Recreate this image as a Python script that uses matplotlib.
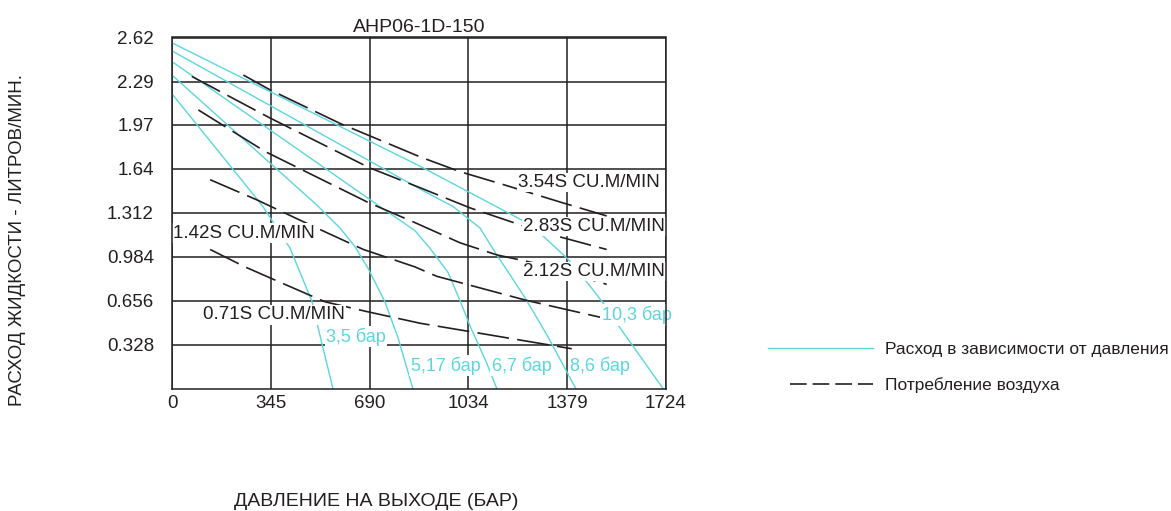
import matplotlib
matplotlib.use("Agg")
import matplotlib.pyplot as plt
from matplotlib.lines import Line2D

plt.rcParams['font.family'] = ['Liberation Sans', 'DejaVu Sans']
plt.rcParams['lines.scale_dashes'] = False

# fluid flow vs outlet pressure, one curve per air inlet pressure
p103_x = [0, 866, 1220, 1290, 1378, 1447, 1505, 1552, 1715]
p103_y = [2.58, 1.66, 1.26, 1.15, 0.976, 0.80, 0.64, 0.49, 0.0]
p86_x = [0, 866, 981, 1075, 1127, 1180, 1232, 1312, 1410]
p86_y = [2.52, 1.49, 1.36, 1.20, 1.02, 0.85, 0.68, 0.39, 0.0]
p67_x = [0, 719, 848, 900, 963, 1005, 1040, 1099, 1134]
p67_y = [2.44, 1.37, 1.18, 1.05, 0.87, 0.66, 0.47, 0.19, 0.0]
p517_x = [0, 506, 586, 639, 684, 743, 789, 841]
p517_y = [2.34, 1.37, 1.20, 1.06, 0.90, 0.65, 0.38, 0.0]
p35_x = [0, 314, 360, 412, 489, 510, 562]
p35_y = [2.20, 1.37, 1.22, 1.05, 0.65, 0.455, 0.0]

# air consumption lines
a354_x = [249, 342, 586, 866, 1005, 1162, 1360, 1517]
a354_y = [2.34, 2.23, 1.98, 1.73, 1.62, 1.52, 1.39, 1.29]
a283_x = [69, 342, 688, 866, 1040, 1220, 1343, 1517]
a283_y = [2.33, 2.02, 1.65, 1.50, 1.35, 1.22, 1.14, 1.04]
a212_x = [92, 325, 685, 848, 1005, 1133, 1284, 1517]
a212_y = [2.08, 1.77, 1.39, 1.24, 1.09, 1.00, 0.93, 0.78]
a142_x = [133, 296, 505, 668, 848, 924, 1238, 1494]
a142_y = [1.56, 1.41, 1.20, 1.04, 0.91, 0.84, 0.66, 0.535]
a071_x = [133, 255, 383, 534, 674, 866, 1034, 1395]
a071_y = [1.04, 0.91, 0.79, 0.65, 0.58, 0.49, 0.43, 0.30]

pressure_names = ["10,3 бар", "8,6 бар", "6,7 бар", "5,17 бар", "3,5 бар"]
air_names = ["3.54S CU.M/MIN", "2.83S CU.M/MIN", "2.12S CU.M/MIN",
             "1.42S CU.M/MIN", "0.71S CU.M/MIN"]

x_ticks = [0, 345, 690, 1034, 1379, 1724]
y_ticks = [0.328, 0.656, 0.984, 1.312, 1.64, 1.97, 2.29, 2.62]
y_tick_labels = ["0.328", "0.656", "0.984", "1.312", "1.64", "1.97", "2.29", "2.62"]

cyan = '#5ad6df'
ink = '#231f20'

fig = plt.figure(figsize=(11.71, 5.11), dpi=100)
ax = fig.add_axes([172 / 1171, 1 - 389 / 511, 494 / 1171, 351.5 / 511])

flow_curves = [(p103_x, p103_y), (p86_x, p86_y), (p67_x, p67_y),
               (p517_x, p517_y), (p35_x, p35_y)]
for xs, ys in flow_curves:
    ax.plot(xs, ys, color=cyan, lw=1.0, zorder=3)

air_curves = [(a354_x, a354_y), (a283_x, a283_y), (a212_x, a212_y),
              (a142_x, a142_y), (a071_x, a071_y)]
for xs, ys in air_curves:
    ax.plot(xs, ys, color=ink, lw=1.2, dashes=(23, 6), zorder=3)

ax.set_xlim(0, 1724)
ax.set_ylim(0, 2.62)
ax.set_xticks(x_ticks)
ax.set_xticklabels([str(v) for v in x_ticks])
ax.set_yticks(y_ticks)
ax.set_yticklabels(y_tick_labels)
ax.tick_params(length=0, labelsize=13.5, colors=ink)
ax.tick_params(axis='y', pad=13)
ax.tick_params(axis='x', pad=4)
ax.grid(True, color=ink, lw=1.1)
ax.set_axisbelow(True)
for s in ax.spines.values():
    s.set_color(ink)
    s.set_linewidth(1.1)
    s.set_zorder(6)

ax.set_title("AHP06-1D-150", fontsize=14, color=ink, pad=4)

# labels on the curves (white box breaks the lines under them)
box = dict(facecolor='white', edgecolor='none', pad=1.0)
air_pos = [(1207, 1.54), (1226, 1.21), (1226, 0.876), (5, 1.162), (109, 0.552)]
for name, (tx, ty) in zip(air_names, air_pos):
    ax.text(tx, ty, name, fontsize=13.5, color=ink, ha='left', va='center',
            bbox=box, zorder=5)

press_pos = [(1500, 0.552), (1389, 0.174), (1116, 0.174), (833, 0.174), (538, 0.390)]
for name, (tx, ty) in zip(pressure_names, press_pos):
    ax.text(tx, ty, name, fontsize=13, color=cyan, ha='left', va='center',
            bbox=box, zorder=5)

fig.text(18 / 1171, 1 - 240 / 511, "РАСХОД ЖИДКОСТИ - ЛИТРОВ/МИН.", rotation=90,
         fontsize=13.5, color=ink, ha='center', va='center')
fig.text(376 / 1171, 1 - 501 / 511, "ДАВЛЕНИЕ НА ВЫХОДЕ (БАР)",
         fontsize=14, color=ink, ha='center', va='center')

# legend, two pieces so the dashed sample can be shorter
h1 = Line2D([], [], color=cyan, lw=1.0)
h2 = Line2D([], [], color=ink, lw=1.2, dashes=(12, 4.3))
fig.legend(handles=[h1], labels=["Расход в зависимости от давления"],
           loc='center left', bbox_to_anchor=(768 / 1171, 1 - 349 / 511),
           frameon=False, borderpad=0, borderaxespad=0, fontsize=12.5,
           handlelength=6.05, handletextpad=0.7, labelcolor=ink)
fig.legend(handles=[h2], labels=["Потребление воздуха"],
           loc='center left', bbox_to_anchor=(790 / 1171, 1 - 385 / 511),
           frameon=False, borderpad=0, borderaxespad=0, fontsize=12.5,
           handlelength=4.8, handletextpad=0.7, labelcolor=ink)

fig.savefig("out.png", dpi=100)
